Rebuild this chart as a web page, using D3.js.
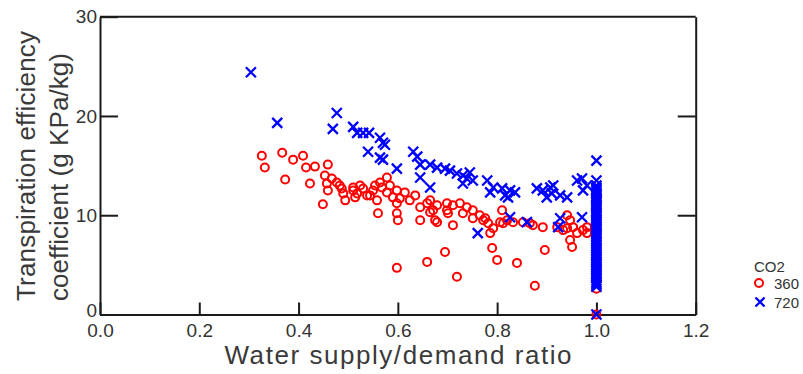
<!DOCTYPE html>
<html><head><meta charset="utf-8">
<script src="https://cdn.jsdelivr.net/npm/d3@7"></script>
<style>
body{margin:0;background:#fff}
svg{display:block}
text{font-family:"Liberation Sans",Arial,sans-serif}
</style>
</head><body>
<svg id="c" width="803" height="374"></svg>
<script>
// ---- data ----
const xTicks = [0, 0.2, 0.4, 0.6, 0.8, 1.0, 1.2];
const xTickLabels = ["0.0", "0.2", "0.4", "0.6", "0.8", "1.0", "1.2"];
const yTicks = [0, 10, 20, 30];
const yTickLabels = ["0", "10", "20", "30"];
const seriesNames = ["360", "720"];

// CO2 = 360 (red circles)
const ratio360 = [0.326,0.332,0.367,0.373,0.389,0.409,0.415,0.433,0.423,0.459,0.453,0.457,0.467,0.477,0.459,0.483,0.487,0.490,0.510,0.510,0.514,0.518,0.530,0.538,0.550,0.558,0.564,0.568,0.578,0.578,0.590,0.598,0.604,0.598,0.449,0.560,0.598,0.600,0.635,0.645,0.659,0.665,0.645,0.679,0.671,0.695,0.659,0.598,0.701,0.699,0.711,0.719,0.731,0.751,0.772,0.786,0.792,0.790,0.800,0.810,0.812,0.832,0.840,0.852,0.872,0.892,0.896,0.876,0.921,0.941,0.947,0.951,0.961,0.973,0.981,0.941,0.665,0.679,0.699,0.711,0.725,0.739,0.751,0.765,0.776,0.782,0.806,0.820,0.866,0.933,0.947,0.953,0.981,0.675,0.524,0.544,0.554,0.584,0.614,0.624,0.494,
  1.0,1.0,1.0,1.0,1.0,1.0,1.0,1.0,1.0,1.0,1.0,1.0,1.0,1.0,1.0];
const te360 = [16.0,14.8,16.3,13.6,15.6,16.0,14.8,14.9,13.2,15.1,14.0,13.2,13.7,13.3,12.5,13.0,12.7,12.2,12.8,12.5,11.8,12.2,12.7,12.0,12.5,11.5,13.3,12.8,13.8,12.3,11.8,12.5,11.7,11.2,11.1,10.2,10.2,9.5,12.0,10.8,11.2,10.3,9.5,9.3,10.5,6.3,5.3,4.7,10.2,10.5,9.0,3.8,10.2,9.7,9.5,8.2,8.7,6.7,5.5,10.5,9.2,9.3,5.2,9.3,9.0,8.8,6.5,2.9,8.8,8.7,7.5,6.8,8.2,8.5,8.8,10.0,11.5,11.0,11.2,11.0,11.2,10.8,10.5,10.0,9.7,9.2,9.3,9.5,9.2,8.5,9.5,8.8,8.2,9.5,13.0,12.0,13.0,13.0,12.3,11.5,11.5,
  12.3,11.5,10.8,10.0,9.3,8.5,7.8,7.0,6.2,5.5,4.7,4.0,3.3,2.6,0.0];

// CO2 = 720 (blue crosses)
const ratio720 = [0.304,0.357,0.477,0.469,0.510,0.518,0.530,0.542,0.564,0.570,0.574,0.540,0.564,0.570,0.598,0.631,0.639,0.645,0.665,0.679,0.695,0.645,0.665,0.705,0.719,0.731,0.745,0.739,0.731,0.751,0.780,0.792,0.786,0.810,0.816,0.826,0.836,0.822,0.880,0.892,0.907,0.913,0.900,0.910,0.927,0.941,0.961,0.971,0.981,0.973,1.0,1.0,0.826,0.860,0.927,0.923,0.971,0.761,1.0,
  1.0,1.0,1.0,1.0,1.0,1.0,1.0,1.0,1.0,1.0,1.0,1.0,1.0,1.0,1.0,1.0,1.0,1.0,1.0,1.0,1.0,1.0,1.0,1.0,1.0,1.0,1.0,1.0,1.0,1.0,1.0,1.0,1.0,1.0,1.0,1.0,1.0,1.0,1.0,1.0,1.0,1.0,1.0,1.0,1.0];
const te720 = [24.4,19.3,20.3,18.7,18.9,18.3,18.3,18.3,17.8,17.3,17.1,16.4,15.8,15.6,14.7,16.4,15.9,15.1,15.1,14.8,14.7,13.8,12.8,14.5,14.2,14.0,14.3,13.7,13.2,13.5,13.5,12.8,12.3,12.7,12.0,12.5,12.3,11.8,12.7,12.5,12.8,13.0,11.8,12.2,12.0,11.8,13.5,13.7,13.0,12.5,15.5,13.5,9.8,9.3,9.7,8.8,9.8,8.2,0.0,
  13.0,12.8,12.5,12.3,12.1,11.8,11.6,11.4,11.1,10.9,10.7,10.4,10.2,10.0,9.7,9.5,9.3,9.0,8.8,8.6,8.3,8.1,7.9,7.6,7.4,7.2,6.9,6.7,6.5,6.2,6.0,5.8,5.5,5.3,5.1,4.8,4.6,4.4,4.1,3.9,3.7,3.4,3.2,3.0,2.8];

// ---- drawing ----
const svg = d3.select("#c");
const x = d3.scaleLinear().domain([0, 1.2]).range([100, 695.7]);
const y = d3.scaleLinear().domain([0, 30]).range([314.5, 16.7]);
const axisColor = "#1a1a1a";
const textColor = "#333";

// frame: top and right
svg.append("line").attr("x1", x(0)).attr("x2", x(1.2)).attr("y1", y(30)).attr("y2", y(30))
  .attr("stroke", axisColor).attr("stroke-width", 2);

const gR = svg.append("g").attr("transform", `translate(${x(1.2)},0)`)
  .call(d3.axisRight(y).tickValues([10, 20]).tickSize(-18).tickSizeOuter(0).tickFormat(""));
gR.selectAll("path,line").attr("stroke", axisColor).attr("stroke-width", 2);

const gL = svg.append("g").attr("transform", `translate(${x(0)},0)`)
  .call(d3.axisLeft(y).tickValues(yTicks).tickSize(-18).tickSizeOuter(0).tickPadding(3)
    .tickFormat((d, i) => yTickLabels[i]));
gL.selectAll("path,line").attr("stroke", axisColor).attr("stroke-width", 2);
gL.selectAll("text").attr("font-size", 19).attr("fill", textColor)
  .attr("font-family", '"Liberation Sans",Arial,sans-serif')
  .attr("dy", d => d === 0 ? "0.1em" : "0.32em");

const gB = svg.append("g").attr("transform", `translate(0,${y(0)})`)
  .call(d3.axisBottom(x).tickValues(xTicks).tickSize(-12).tickSizeOuter(0).tickPadding(9)
    .tickFormat((d, i) => xTickLabels[i]));
gB.selectAll("path,line").attr("stroke", axisColor).attr("stroke-width", 2);
gB.selectAll("text").attr("font-size", 19).attr("fill", textColor)
  .attr("font-family", '"Liberation Sans",Arial,sans-serif');

// data marks
const red = "#ff0000", blue = "#0000ff";
svg.append("g").selectAll("circle").data(ratio360.map((r, i) => [r, te360[i]])).join("circle")
  .attr("cx", d => x(d[0])).attr("cy", d => y(d[1])).attr("r", 4)
  .attr("fill", "none").attr("stroke", red).attr("stroke-width", 2);

const cross = "M-5,-5L5,5M-5,5L5,-5";
svg.append("g").selectAll("path").data(ratio720.map((r, i) => [r, te720[i]])).join("path")
  .attr("transform", d => `translate(${x(d[0])},${y(d[1])})`).attr("d", cross)
  .attr("fill", "none").attr("stroke", blue).attr("stroke-width", 2.3);

// axis titles
svg.append("text").attr("x", 398).attr("y", 364).attr("text-anchor", "middle")
  .attr("font-size", 26).attr("fill", "#3a3a3a").attr("textLength", 347)
  .text("Water supply/demand ratio");
svg.append("text").attr("transform", "translate(35,166) rotate(-90)").attr("text-anchor", "middle")
  .attr("font-size", 26).attr("fill", "#3a3a3a").attr("textLength", 270)
  .text("Transpiration efficiency");
svg.append("text").attr("transform", "translate(68,177) rotate(-90)").attr("text-anchor", "middle")
  .attr("font-size", 26).attr("fill", "#3a3a3a").attr("textLength", 248)
  .text("coefficient (g KPa/kg)");

// legend
const lg = svg.append("g");
lg.append("text").attr("x", 754).attr("y", 272).attr("font-size", 15).attr("fill", textColor).text("CO2");
lg.append("circle").attr("cx", 759).attr("cy", 283).attr("r", 4)
  .attr("fill", "none").attr("stroke", red).attr("stroke-width", 2);
lg.append("text").attr("x", 774).attr("y", 288.5).attr("font-size", 15).attr("fill", textColor).text(seriesNames[0]);
lg.append("path").attr("transform", "translate(760,302)").attr("d", "M-4.5,-4.5L4.5,4.5M-4.5,4.5L4.5,-4.5")
  .attr("fill", "none").attr("stroke", blue).attr("stroke-width", 2.3);
lg.append("text").attr("x", 774).attr("y", 307.5).attr("font-size", 15).attr("fill", textColor).text(seriesNames[1]);
</script>
</body></html>
